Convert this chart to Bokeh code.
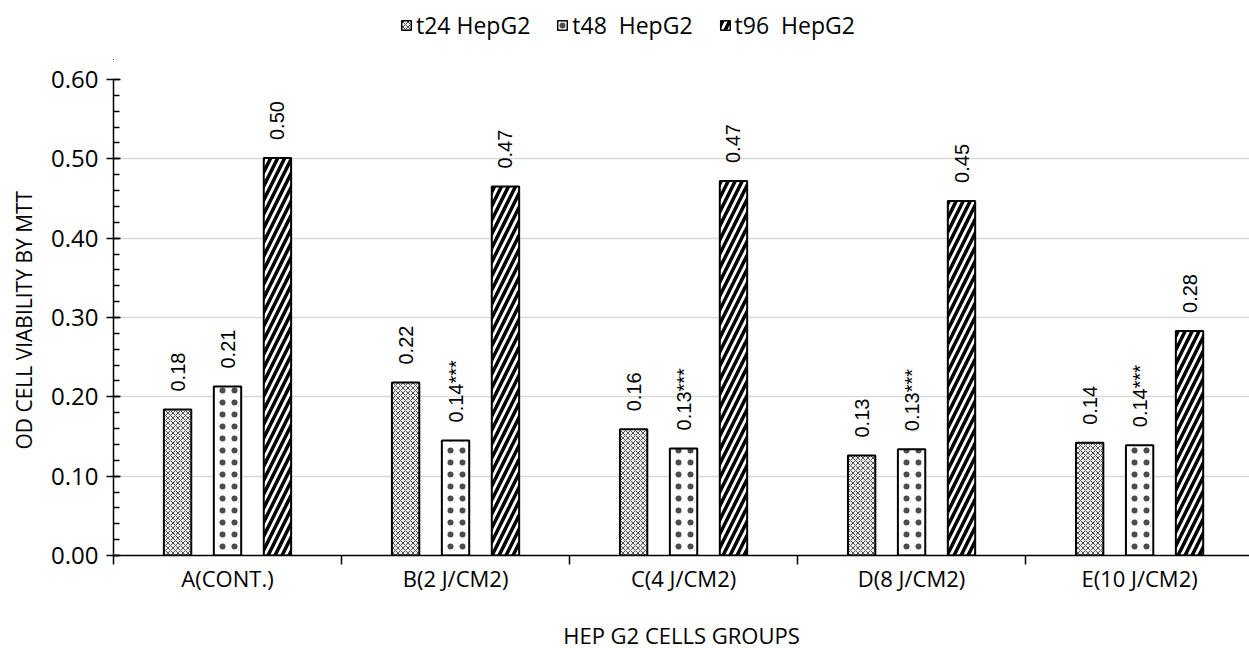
import math
from bokeh.plotting import figure
from bokeh.layouts import column
from bokeh.models import (ColumnDataSource, FixedTicker, Range1d, Legend, LegendItem,
                          PrintfTickFormatter)
from bokeh.core.properties import value
from bokeh.embed import file_html
from bokeh.resources import INLINE

groups = ["A(CONT.)", "B(2 J/CM2)", "C(4 J/CM2)", "D(8 J/CM2)", "E(10 J/CM2)"]
series = ["t24 HepG2", "t48  HepG2", "t96  HepG2"]
t24 = [0.184, 0.218, 0.159, 0.126, 0.142]
t48 = [0.213, 0.145, 0.135, 0.134, 0.139]
t96 = [0.501, 0.465, 0.472, 0.447, 0.283]
labels_t24 = ["0.18", "0.22", "0.16", "0.13", "0.14"]
labels_t48 = ["0.21", "0.14***", "0.13***", "0.13***", "0.14***"]
labels_t96 = ["0.50", "0.47", "0.47", "0.45", "0.28"]
y_ticks = [0.0, 0.1, 0.2, 0.3, 0.4, 0.5, 0.6]

FONT = "Open Sans"

styles = [
    dict(fill_color="#ececec", hatch_pattern="diagonal_cross", hatch_scale=5,
         hatch_color="#555555", hatch_weight=1),
    dict(fill_color="white", hatch_pattern="dot", hatch_scale=12,
         hatch_color="black", hatch_weight=0.3, hatch_alpha=0.7),
    dict(fill_color="white", hatch_pattern="right_diagonal_line", hatch_scale=14,
         hatch_color="black", hatch_weight=3.5),
]

centers = [i + 0.5 for i in range(len(groups))]
offsets = [-0.219, 0.0, 0.219]
series_vals = [t24, t48, t96]
series_labels = [labels_t24, labels_t48, labels_t96]

# ---- legend strip (separate figure on top; its frame aligns with the chart's) ----
lg = figure(width=1249, height=60, x_range=Range1d(100, 101), y_range=Range1d(100, 101),
            output_backend="svg", toolbar_location=None, min_border=0,
            min_border_left=113, background_fill_color="white",
            border_fill_color="white")
lg.axis.visible = False
lg.grid.visible = False
lg.outline_line_color = None
lg_items = []
for vals, off, st, name in zip(series_vals, offsets, styles, series):
    # same data, drawn outside the strip's view: only used for the legend swatch
    r = lg.vbar(x=[c + off for c in centers], top=vals, width=0.12,
                line_color="black", line_width=1.5, **st)
    lg_items.append(LegendItem(label=name, renderers=[r]))
legend = Legend(items=lg_items, orientation="horizontal", location=(287, 19),
                padding=0, margin=0, spacing=26, label_standoff=4,
                glyph_width=12, glyph_height=12, border_line_color=None,
                background_fill_alpha=0, label_text_font=FONT,
                label_text_font_size="23px", label_text_color="black")
lg.add_layout(legend, "center")

# ---- main chart ----
p = figure(frame_width=1136, frame_height=476,
           x_range=Range1d(0, 4.982), y_range=Range1d(0, 0.6),
           output_backend="svg", toolbar_location=None,
           min_border_left=113, min_border_top=19, min_border_bottom=93,
           min_border_right=0, background_fill_color="white",
           border_fill_color="white")
p.outline_line_color = None
p.xgrid.grid_line_color = None
p.ygrid.grid_line_color = "#d9d9d9"
p.ygrid.grid_line_width = 1.5

for vals, labs, off, st in zip(series_vals, series_labels, offsets, styles):
    src = ColumnDataSource(dict(x=[c + off for c in centers], top=vals, label=labs))
    p.vbar(x="x", top="top", width=0.12, bottom=0, source=src,
           line_color="black", line_width=2, **st)
    p.text(x="x", y="top", text="label", source=src, angle=math.pi / 2,
           y_offset=-18, text_align="left", text_baseline="middle",
           text_font=value("Liberation Sans"), text_font_size="20px",
           text_color="black")

# x axis
xa = p.xaxis[0]
xa.ticker = FixedTicker(ticks=centers, minor_ticks=[0, 1, 2, 3, 4, 5])
xa.major_label_overrides = {c: g for c, g in zip(centers, groups)}
xa.major_tick_line_color = None
xa.major_tick_in = 0
xa.major_tick_out = 0
xa.minor_tick_in = 0
xa.minor_tick_out = 9
xa.minor_tick_line_color = "black"
xa.minor_tick_line_width = 1.5
xa.axis_line_color = "black"
xa.axis_line_width = 1.5
xa.major_label_standoff = -2
xa.major_label_text_font = FONT
xa.major_label_text_font_size = "22px"
xa.major_label_text_color = "black"
xa.axis_label = "HEP G2 CELLS GROUPS"
xa.axis_label_text_font = FONT
xa.axis_label_text_font_size = "22px"
xa.axis_label_text_font_style = "normal"
xa.axis_label_text_color = "black"
xa.axis_label_standoff = 24

# y axis
ya = p.yaxis[0]
ya.ticker = FixedTicker(ticks=y_ticks,
                        minor_ticks=[round(i * 0.02, 2) for i in range(31)])
ya.formatter = PrintfTickFormatter(format="%.2f")
ya.major_tick_in = 7
ya.major_tick_out = 7
ya.major_tick_line_width = 1.5
ya.major_tick_line_color = "black"
ya.minor_tick_in = 6
ya.minor_tick_out = 0
ya.minor_tick_line_width = 1.5
ya.minor_tick_line_color = "black"
ya.axis_line_color = "black"
ya.axis_line_width = 1.5
ya.major_label_standoff = 8
ya.major_label_text_font = FONT
ya.major_label_text_font_size = "24px"
ya.major_label_text_color = "black"
ya.axis_label = "OD  CELL VIABILITY BY MTT"
ya.axis_label_text_font = FONT
ya.axis_label_text_font_size = "21px"
ya.axis_label_text_font_style = "normal"
ya.axis_label_text_color = "black"
ya.axis_label_standoff = 10

layout = column(lg, p, spacing=0)
open("out.html", "w").write(file_html(layout, INLINE))
